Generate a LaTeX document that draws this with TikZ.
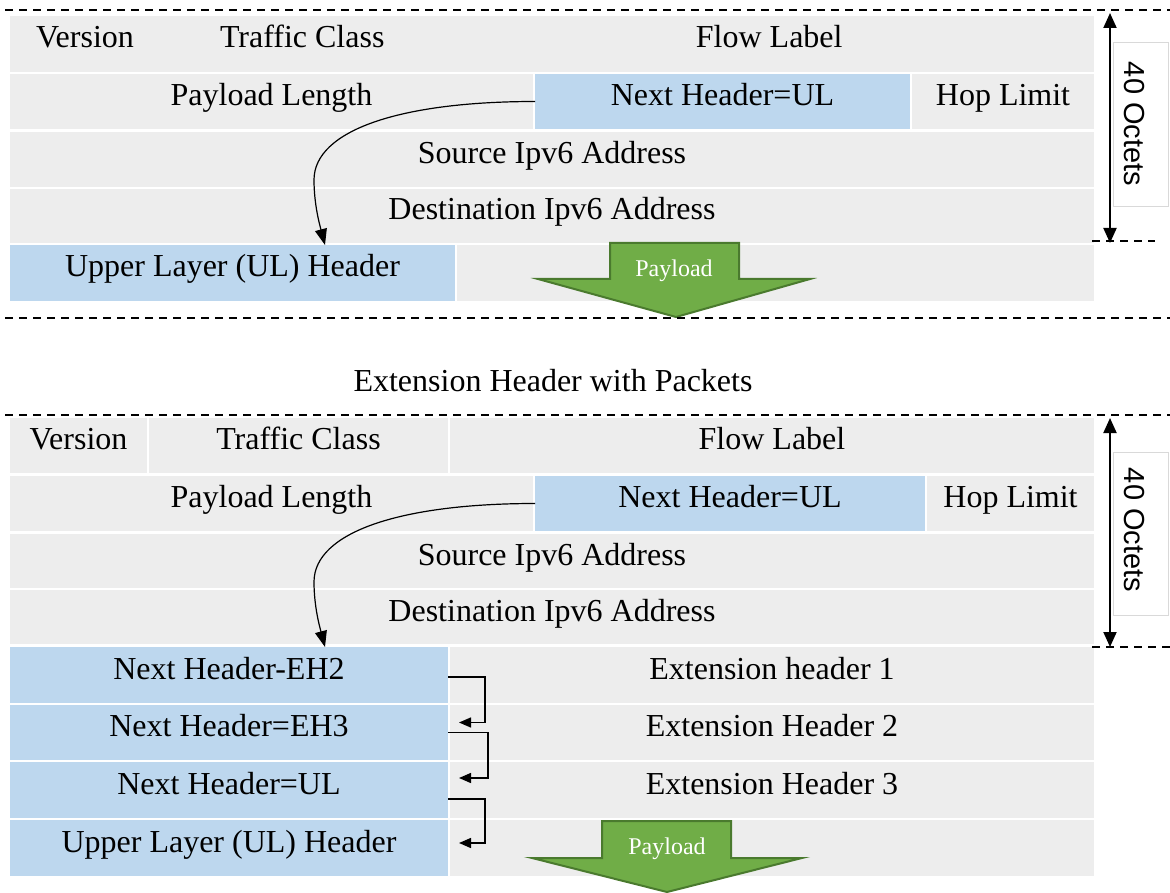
\documentclass[tikz,border=0pt]{standalone}
\usepackage{fontspec}
\setmainfont{Liberation Serif}
\newfontfamily\octfont{Liberation Sans}
\usetikzlibrary{arrows.meta,calc}
\definecolor{cellgray}{HTML}{EDEDED}
\definecolor{cellblue}{HTML}{BDD7EE}
\definecolor{paygreen}{HTML}{70AD47}
\definecolor{paydark}{HTML}{4A7A2E}
\definecolor{boxline}{HTML}{D9D9D9}
\newcommand\mkcell[7]{\node[#6, minimum width={(#4-#2)*1pt}, minimum height={(#5-#3)*1pt}] (#1) at ({(#2+#4)/2},{(#3+#5)/2}) {#7};}
\begin{document}
\begin{tikzpicture}[x=1pt,y=-1pt,font=\fontsize{32}{38}\selectfont,
  cell/.style={rectangle, inner sep=0pt, outer sep=0pt, fill=cellgray, text height=22pt, text depth=14pt},
  bcell/.style={cell, fill=cellblue},
  cutline/.style={line width=1.5pt, dash pattern=on 8pt off 6pt},
  curvearrow/.style={line width=1.2pt, -{Triangle[length=16pt,width=12pt]}},
  elbarrow/.style={line width=1.4pt, -{Triangle[length=12pt,width=10pt]}},
  dblarrow/.style={line width=2pt, {Triangle[length=15pt,width=13pt]}-{Triangle[length=15pt,width=13pt]}},
  payarrow/.style={fill=paygreen, draw=paydark, line width=2pt, line join=miter},
  paytext/.style={text=white, font=\fontsize{24}{28}\selectfont, inner sep=0pt},
  obox/.style={rectangle, draw=boxline, fill=white, line width=1pt, inner sep=0pt},
  otext/.style={font=\octfont\fontsize{29}{34}\selectfont, rotate=-90, inner sep=0pt},
  titletext/.style={anchor=base, inner sep=0pt}]
\fill[white] (0,0) rectangle (1170,893);
\useasboundingbox (0,0) rectangle (1170,893);

% ---------- top packet ----------
\draw[cutline] (5,10) -- (1170,10);
\mkcell{ver1}{10}{16}{160}{72}{cell}{Version}
\mkcell{tc1}{159.5}{16}{445}{72}{cell}{Traffic Class}
\mkcell{fl1}{444.5}{16}{1094}{72}{cell}{Flow Label}
\mkcell{pl1}{10}{74}{533}{129}{cell}{Payload Length}
\mkcell{nh1}{535}{74}{910}{129}{bcell}{Next Header=UL}
\mkcell{hl1}{912}{74}{1094}{129}{cell}{Hop Limit}
\mkcell{src1}{10}{132}{1094}{187}{cell}{Source Ipv6 Address}
\mkcell{dst1}{10}{189}{1094}{243}{cell}{Destination Ipv6 Address}
\mkcell{ul1}{10}{245}{455}{301}{bcell}{Upper Layer (UL) Header}
\mkcell{rest1}{457}{245}{1094}{301}{cell}{}
\draw[payarrow] (610,243) -- (739,243) -- (739,279) -- (810,279) -- (676,317) -- (538,279) -- (610,279) -- cycle;
\node[paytext] (pay1) at (674,271) {Payload};
\draw[cutline] (5,318) -- (1170,318);
\coordinate (ulin1) at (325,245);
\draw[curvearrow] (nh1.west) .. controls +(-134,0) and +(0,-50) .. ++(-221,78.5) .. controls +(0,25) and +(-5,-19) .. (ulin1);
\node[obox, minimum width=55pt, minimum height=164pt] (ob1) at (1140.5,125) {};
\node[otext] (ot1) at (1134,124) {40 Octets};
\coordinate (va1t) at (1110,13);
\coordinate (va1b) at (1110,243);
\draw[dblarrow] (va1t) -- (va1b);
\draw[cutline] (1092,241) -- (1155,241);

% ---------- title ----------
\node[titletext] (title) at (553,391) {Extension Header with Packets};

% ---------- bottom packet ----------
\draw[cutline] (5,415) -- (1170,415);
\mkcell{ver2}{10}{418}{147}{473}{cell}{Version}
\mkcell{tc2}{149}{418}{448}{473}{cell}{Traffic Class}
\mkcell{fl2}{450}{418}{1094}{473}{cell}{Flow Label}
\mkcell{pl2}{10}{476}{533}{531}{cell}{Payload Length}
\mkcell{nh2}{535}{476}{925}{531}{bcell}{Next Header=UL}
\mkcell{hl2}{927}{476}{1094}{531}{cell}{Hop Limit}
\mkcell{src2}{10}{534}{1094}{588}{cell}{Source Ipv6 Address}
\mkcell{dst2}{10}{590}{1094}{644}{cell}{Destination Ipv6 Address}
\mkcell{nx1}{10}{647}{448}{703}{bcell}{Next Header-EH2}
\mkcell{ex1}{450}{647}{1094}{703}{cell}{Extension header 1}
\mkcell{nx2}{10}{705}{448}{760}{bcell}{Next Header=EH3}
\mkcell{ex2}{450}{705}{1094}{760}{cell}{Extension Header 2}
\mkcell{nx3}{10}{762}{448}{818}{bcell}{Next Header=UL}
\mkcell{ex3}{450}{762}{1094}{818}{cell}{Extension Header 3}
\mkcell{ul2}{10}{820}{448}{876}{bcell}{Upper Layer (UL) Header}
\mkcell{rest2}{450}{820}{1094}{876}{cell}{}
\draw[payarrow] (602,821) -- (731,821) -- (731,858) -- (802,858) -- (667,892) -- (532,858) -- (602,858) -- cycle;
\node[paytext] (pay2) at (667,849) {Payload};
\coordinate (ulin2) at (325,647);
\draw[curvearrow] (nh2.west) .. controls +(-134,0) and +(0,-50) .. ++(-221,78.5) .. controls +(0,25) and +(-5,-19) .. (ulin2);
\draw[elbarrow] ($(nx1.east)+(0,2)$) -- ++(37,0) |- ($(nx2.east)+(11,-10)$);
\draw[elbarrow] (nx2.east) -- ++(40,0) |- ($(nx3.east)+(11,-12)$);
\draw[elbarrow] ($(nx3.east)+(0,9)$) -- ++(37,0) |- ($(ul2.east)+(11,-5)$);
\node[obox, minimum width=55pt, minimum height=163pt] (ob2) at (1140.5,533.5) {};
\node[otext] (ot2) at (1134,530) {40 Octets};
\coordinate (va2t) at (1110,418);
\coordinate (va2b) at (1110,647);
\draw[dblarrow] (va2t) -- (va2b);
\draw[cutline] (1092,647) -- (1170,647);
\end{tikzpicture}
\end{document}
